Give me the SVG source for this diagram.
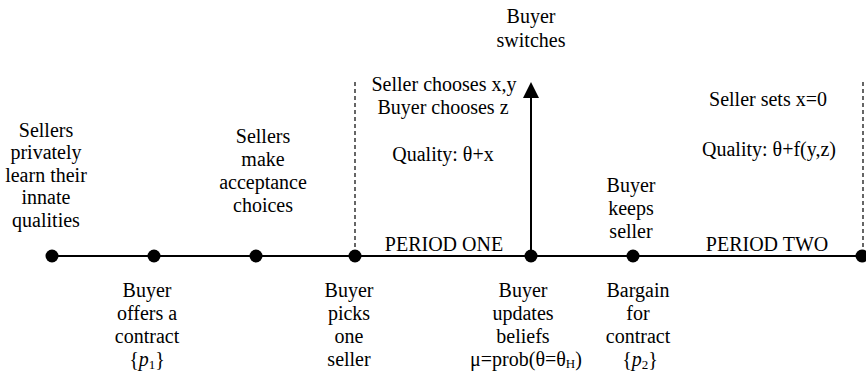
<svg xmlns="http://www.w3.org/2000/svg" width="866" height="373" viewBox="0 0 866 373">
<style>
text{font-family:"Liberation Serif","Times New Roman",serif;font-size:20px;fill:#000;text-anchor:middle}
.sub{font-size:13px}
.it{font-style:italic}
.dot{fill:#000}
.dash{stroke:#000;stroke-width:1.2;stroke-dasharray:4 3;fill:none}
.line{stroke:#000;stroke-width:2;fill:none}
</style>
<rect width="866" height="373" fill="#fff"/>
<g id="connectors">
<line class="line" x1="52" y1="256" x2="862" y2="256"/>
<line class="dash" x1="355" y1="82" x2="355" y2="256"/>
<line class="dash" x1="863" y1="82" x2="863" y2="256"/>
<path class="line" d="M531,256 L531,90"/>
<path fill="#000" d="M523,98 L531,82 L539,98 Z"/>
</g>
<g id="n1"><circle class="dot" cx="52" cy="256" r="6.5"/>
<text><tspan x="46" y="137">Sellers</tspan><tspan x="46" y="159">privately</tspan><tspan x="46" y="182">learn their</tspan><tspan x="46" y="204">innate</tspan><tspan x="46" y="227">qualities</tspan></text></g>
<g id="n2"><circle class="dot" cx="154" cy="256" r="6.5"/>
<text><tspan x="147" y="297">Buyer</tspan><tspan x="147" y="320">offers a</tspan><tspan x="147" y="343">contract</tspan><tspan x="147" y="366">{<tspan class="it">p</tspan><tspan class="sub" dy="3">1</tspan><tspan dy="-3">}</tspan></tspan></text></g>
<g id="n3"><circle class="dot" cx="256" cy="256" r="6.5"/>
<text><tspan x="263" y="143">Sellers</tspan><tspan x="263" y="166">make</tspan><tspan x="263" y="189">acceptance</tspan><tspan x="263" y="212">choices</tspan></text></g>
<g id="n4"><circle class="dot" cx="355" cy="256" r="6.5"/>
<text><tspan x="349" y="297">Buyer</tspan><tspan x="349" y="320">picks</tspan><tspan x="349" y="343">one</tspan><tspan x="349" y="366">seller</tspan></text></g>
<g id="period1">
<text><tspan x="444" y="91">Seller chooses x,y</tspan><tspan x="443" y="114">Buyer chooses z</tspan><tspan x="443" y="161">Quality: θ+x</tspan></text>
<text x="444" y="251">PERIOD ONE</text></g>
<g id="n5"><circle class="dot" cx="531" cy="256" r="6.5"/>
<text><tspan x="531" y="23">Buyer</tspan><tspan x="531" y="47">switches</tspan></text>
<text><tspan x="523" y="297">Buyer</tspan><tspan x="523" y="320">updates</tspan><tspan x="523" y="343">beliefs</tspan><tspan x="526" y="366">μ=prob(θ=θ<tspan class="sub" dy="2">H</tspan><tspan dy="-2">)</tspan></tspan></text></g>
<g id="n6"><circle class="dot" cx="633" cy="256" r="6.5"/>
<text><tspan x="631" y="192">Buyer</tspan><tspan x="631" y="215">keeps</tspan><tspan x="631" y="238">seller</tspan></text>
<text><tspan x="638" y="297">Bargain</tspan><tspan x="638" y="320">for</tspan><tspan x="638" y="343">contract</tspan><tspan x="640" y="366">{<tspan class="it">p</tspan><tspan class="sub" dy="3">2</tspan><tspan dy="-3">}</tspan></tspan></text></g>
<g id="period2">
<text><tspan x="768" y="106">Seller sets x=0</tspan><tspan x="769" y="156">Quality: θ+f(y,z)</tspan></text>
<text x="767" y="251">PERIOD TWO</text></g>
<g id="n7"><circle class="dot" cx="862" cy="256" r="6.5"/></g>
</svg>
